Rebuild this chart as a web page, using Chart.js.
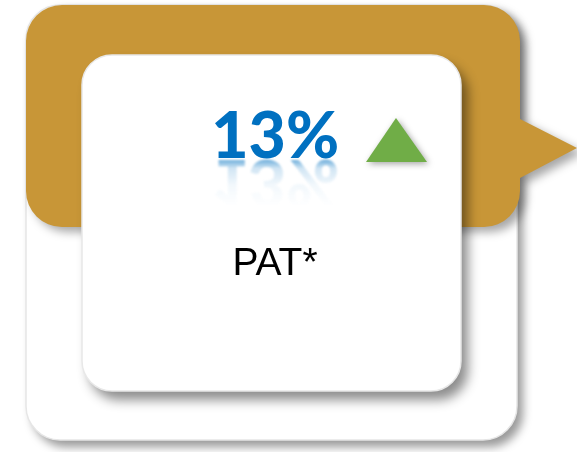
<!DOCTYPE html>
<html>
<head>
<meta charset="utf-8">
<title>PAT card</title>
<script src="https://cdn.jsdelivr.net/npm/chart.js@4.4.0/dist/chart.umd.min.js"></script>
<style>
  html, body { margin: 0; padding: 0; background: #fff; }
  #card { display: block; }
</style>
</head>
<body>
<canvas id="card" width="577" height="452"></canvas>
<script>
// values
var categories = ['PAT*'];
var changeValues = [13];
var changeUnits = ['%'];
var changeDirections = ['up'];

var GOLD = '#C89637';
var BLUE = '#0070C0';
var GREEN = '#70AD47';

function roundRect(ctx, x, y, w, h, r) {
  ctx.beginPath();
  ctx.moveTo(x + r, y);
  ctx.arcTo(x + w, y, x + w, y + h, r);
  ctx.arcTo(x + w, y + h, x, y + h, r);
  ctx.arcTo(x, y + h, x, y, r);
  ctx.arcTo(x, y, x + w, y, r);
  ctx.closePath();
}

// gold banner with the arrow on its right side
function goldPath(ctx) {
  var l = 26, t = 5, r = 520, b = 227, rad = 36;
  ctx.beginPath();
  ctx.moveTo(l + rad, t);
  ctx.lineTo(r - rad, t);
  ctx.arcTo(r, t, r, t + rad, rad);
  ctx.lineTo(r, 119);
  ctx.lineTo(577, 148);
  ctx.lineTo(r, 178);
  ctx.lineTo(r, b - rad);
  ctx.arcTo(r, b, r - rad, b, rad);
  ctx.lineTo(l + rad, b);
  ctx.arcTo(l, b, l, b - rad, rad);
  ctx.lineTo(l, t + rad);
  ctx.arcTo(l, t, l + rad, t, rad);
  ctx.closePath();
}

function shadow(ctx, blur, dx, dy, col) {
  ctx.shadowBlur = blur;
  ctx.shadowOffsetX = dx;
  ctx.shadowOffsetY = dy;
  ctx.shadowColor = col;
}

var cardPlugin = {
  id: 'kpiCard',
  beforeDraw: function (chart) {
    var ctx = chart.ctx;
    var label = chart.data.labels[0];
    var value = chart.data.datasets[0].data[0];
    var txt = value + changeUnits[0];

    ctx.save();
    ctx.fillStyle = '#fff';
    ctx.fillRect(0, 0, chart.width, chart.height);

    // outer white card
    ctx.save();
    shadow(ctx, 10, 6, 7, 'rgba(0,0,0,0.4)');
    roundRect(ctx, 26, 5, 491, 435, 34);
    ctx.fillStyle = '#fff';
    ctx.fill();
    ctx.restore();
    roundRect(ctx, 26, 5, 491, 435, 34);
    ctx.strokeStyle = '#e6e6e6';
    ctx.lineWidth = 1.5;
    ctx.stroke();

    // gold banner
    ctx.save();
    shadow(ctx, 10, 6, 5, 'rgba(0,0,0,0.35)');
    goldPath(ctx);
    ctx.fillStyle = GOLD;
    ctx.fill();
    ctx.restore();

    // inner card
    ctx.save();
    shadow(ctx, 12, 7, 9, 'rgba(0,0,0,0.45)');
    roundRect(ctx, 82, 55, 379, 336, 30);
    ctx.fillStyle = '#fff';
    ctx.fill();
    ctx.restore();
    roundRect(ctx, 82, 55, 379, 336, 30);
    ctx.strokeStyle = '#e8e8e8';
    ctx.lineWidth = 1.5;
    ctx.stroke();

    // big value with reflection
    ctx.font = '900 68px Lato';
    ctx.textAlign = 'left';
    ctx.textBaseline = 'alphabetic';
    var m = ctx.measureText(txt);
    var inkW = m.actualBoundingBoxLeft + m.actualBoundingBoxRight;
    var sx = 122 / inkW, sy = 48 / m.actualBoundingBoxAscent;

    var off = document.createElement('canvas');
    off.width = chart.width; off.height = chart.height;
    var o = off.getContext('2d');
    o.font = ctx.font;
    o.fillStyle = BLUE;
    o.save();
    o.translate(215, 160);
    o.scale(sx, -sy);
    o.fillText(txt, m.actualBoundingBoxLeft, 0);
    o.restore();
    o.globalCompositeOperation = 'destination-in';
    var g = o.createLinearGradient(0, 159, 0, 206);
    g.addColorStop(0, 'rgba(0,0,0,0.6)');
    g.addColorStop(0.2, 'rgba(0,0,0,0.18)');
    g.addColorStop(0.55, 'rgba(0,0,0,0.05)');
    g.addColorStop(1, 'rgba(0,0,0,0)');
    o.fillStyle = g;
    o.fillRect(0, 150, chart.width, 70);
    ctx.save();
    ctx.filter = 'blur(0.8px)';
    ctx.drawImage(off, 0, 0);
    ctx.restore();

    ctx.save();
    ctx.fillStyle = BLUE;
    ctx.translate(215, 158);
    ctx.scale(sx, sy);
    ctx.fillText(txt, m.actualBoundingBoxLeft, 0);
    ctx.restore();

    // direction marker
    if (changeDirections[0] === 'up') {
      ctx.save();
      shadow(ctx, 6, 2, 2, 'rgba(0,0,0,0.35)');
      ctx.beginPath();
      ctx.moveTo(396, 118);
      ctx.lineTo(427, 162);
      ctx.lineTo(366, 162);
      ctx.closePath();
      ctx.fillStyle = GREEN;
      ctx.fill();
      ctx.restore();
    }

    // label
    ctx.fillStyle = '#000';
    ctx.font = '39px "Liberation Sans", Arial, sans-serif';
    ctx.textAlign = 'center';
    ctx.fillText(label, 275, 275);
    ctx.restore();
  }
};

var chart = new Chart(document.getElementById('card').getContext('2d'), {
  type: 'bar',
  data: {
    labels: categories,
    datasets: [{ data: changeValues, hidden: true }]
  },
  options: {
    responsive: false,
    animation: false,
    devicePixelRatio: 1,
    events: [],
    plugins: { legend: { display: false }, tooltip: { enabled: false } },
    scales: { x: { display: false }, y: { display: false } }
  },
  plugins: [cardPlugin]
});
</script>
</body>
</html>
